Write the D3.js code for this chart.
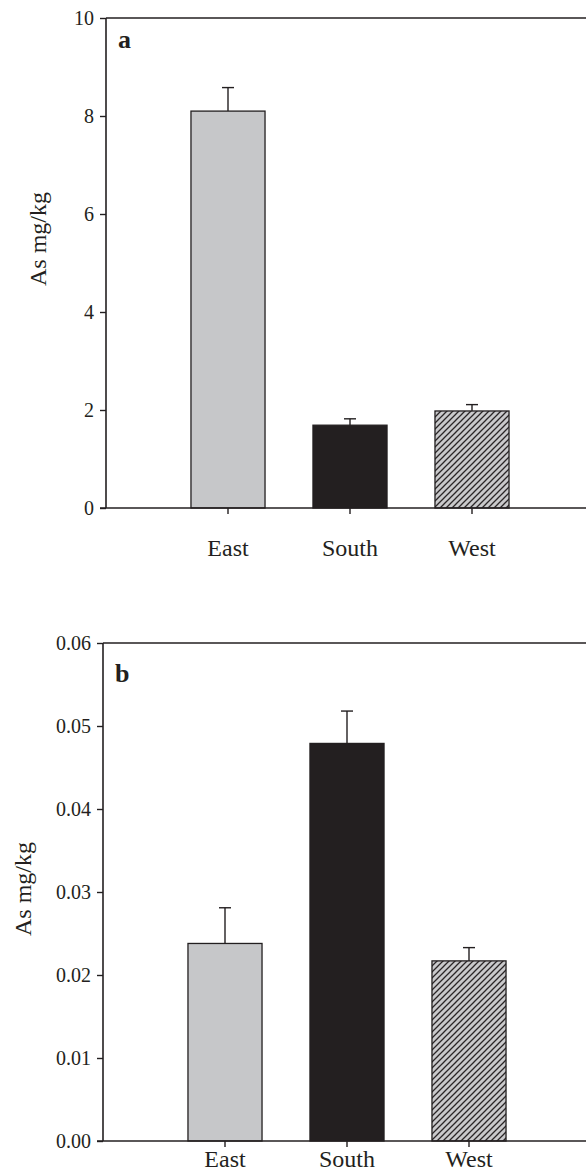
<!DOCTYPE html>
<html>
<head>
<meta charset="utf-8">
<script src="https://cdn.jsdelivr.net/npm/d3@7"></script>
<style>
  html, body { margin: 0; padding: 0; background: #fff; }
  svg { display: block; }
  text { font-family: "Liberation Serif", "Times New Roman", serif; fill: #231f20; }
</style>
</head>
<body>
<svg id="chart" width="586" height="1174"></svg>
<script>
// ---- data ----
const categories = ["East", "South", "West"];
const meansA = [8.10, 1.69, 1.98];
const errorsA = [0.48, 0.13, 0.13];
const ticksA = [0, 2, 4, 6, 8, 10];
const tickLabelsA = ["0", "2", "4", "6", "8", "10"];

const meansB = [0.0238, 0.0479, 0.0217];
const errorsB = [0.0043, 0.0039, 0.0016];
const ticksB = [0, 0.01, 0.02, 0.03, 0.04, 0.05, 0.06];
const tickLabelsB = ["0.00", "0.01", "0.02", "0.03", "0.04", "0.05", "0.06"];

const yLabel = "As mg/kg";
const panelLetters = ["a", "b"];

// ---- drawing ----
const svg = d3.select("#chart");
const ink = "#231f20";

const defs = svg.append("defs");
const pat = defs.append("pattern")
  .attr("id", "hatch")
  .attr("patternUnits", "userSpaceOnUse")
  .attr("width", 6).attr("height", 6);
pat.append("rect").attr("width", 6).attr("height", 6).attr("fill", "#c9c9cb");
pat.append("path")
  .attr("d", "M-1,1 l2,-2 M0,6 l6,-6 M5,7 l2,-2")
  .attr("stroke", "#2a2627").attr("stroke-width", 1.3);

const fills = ["#c6c7c9", "#231f20", "url(#hatch)"];

function panel(cfg) {
  const g = svg.append("g");
  const y = d3.scaleLinear().domain([0, cfg.max]).range([cfg.bottom, cfg.top]);
  const step = 122;
  const x = d3.scaleBand().domain(categories)
    .range([cfg.left + step * 0.5, cfg.left + step * 3.5])
    .paddingInner(0.393).paddingOuter(0.1965);

  // bars
  g.selectAll("rect.bar").data(categories).join("rect")
    .attr("class", "bar")
    .attr("x", d => x(d))
    .attr("width", x.bandwidth())
    .attr("y", (d, i) => y(cfg.means[i]))
    .attr("height", (d, i) => y(0) - y(cfg.means[i]))
    .attr("fill", (d, i) => fills[i])
    .attr("stroke", ink).attr("stroke-width", 1.3);

  // error bars (upper only)
  const eb = g.selectAll("g.err").data(categories).join("g").attr("class", "err");
  eb.append("line")
    .attr("x1", d => x(d) + x.bandwidth() / 2)
    .attr("x2", d => x(d) + x.bandwidth() / 2)
    .attr("y1", (d, i) => y(cfg.means[i]))
    .attr("y2", (d, i) => y(cfg.means[i] + cfg.errors[i]))
    .attr("stroke", ink).attr("stroke-width", 1.4);
  eb.append("line")
    .attr("x1", d => x(d) + x.bandwidth() / 2 - 6)
    .attr("x2", d => x(d) + x.bandwidth() / 2 + 6)
    .attr("y1", (d, i) => y(cfg.means[i] + cfg.errors[i]))
    .attr("y2", (d, i) => y(cfg.means[i] + cfg.errors[i]))
    .attr("stroke", ink).attr("stroke-width", 1.4);

  // top frame line
  g.append("line")
    .attr("x1", cfg.left).attr("x2", 600)
    .attr("y1", cfg.top).attr("y2", cfg.top)
    .attr("stroke", ink).attr("stroke-width", 1.6);

  // y axis
  const yAxis = d3.axisLeft(y).tickValues(cfg.ticks)
    .tickFormat((d, i) => cfg.tickLabels[i]).tickSize(6).tickPadding(6);
  const ya = g.append("g").attr("transform", `translate(${cfg.left},0)`).call(yAxis);
  ya.select(".domain").attr("stroke", ink).attr("stroke-width", 1.6)
    .attr("d", `M0,${cfg.top}V${cfg.bottom}`);
  ya.selectAll(".tick line").attr("stroke", ink).attr("stroke-width", 1.4);
  ya.selectAll(".tick text").attr("font-size", 20).attr("fill", ink)
    .style("font-family", '"Liberation Serif", serif');

  // x axis
  const xAxis = d3.axisBottom(x).tickSize(6).tickPadding(cfg.xPad);
  const xa = g.append("g").attr("transform", `translate(0,${cfg.bottom})`).call(xAxis);
  xa.select(".domain").attr("stroke", ink).attr("stroke-width", 1.6)
    .attr("d", `M${cfg.left - 6},0H600`);
  xa.selectAll(".tick line").attr("stroke", ink).attr("stroke-width", 1.4);
  xa.selectAll(".tick text").attr("font-size", 24).attr("fill", ink)
    .style("font-family", '"Liberation Serif", serif');

  // y label
  g.append("text")
    .attr("transform", `translate(${cfg.labelX},${cfg.labelY}) rotate(-90)`)
    .attr("text-anchor", "middle")
    .attr("font-size", 24)
    .text(yLabel);

  // panel letter
  g.append("text")
    .attr("x", cfg.left + 12).attr("y", cfg.top + cfg.letterDy)
    .attr("font-size", 26).attr("font-weight", "bold")
    .text(cfg.letter);
}

panel({ left: 106, top: 18, bottom: 508, max: 10, xPad: 25,
  means: meansA, errors: errorsA, ticks: ticksA, tickLabels: tickLabelsA,
  labelX: 46, labelY: 239, letter: panelLetters[0], letterDy: 30 });

panel({ left: 103, top: 643, bottom: 1141, max: 0.06, xPad: 3,
  means: meansB, errors: errorsB, ticks: ticksB, tickLabels: tickLabelsB,
  labelX: 31, labelY: 889, letter: panelLetters[1], letterDy: 39 });
</script>
</body>
</html>
